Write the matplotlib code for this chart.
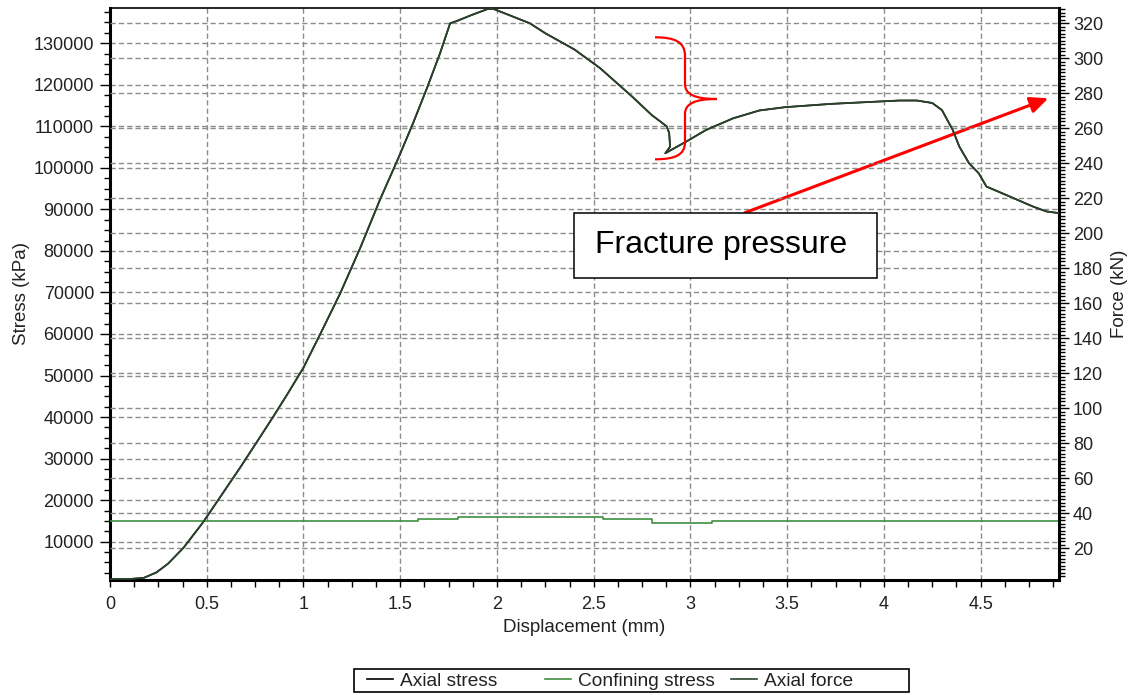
import matplotlib
matplotlib.use("Agg")
import matplotlib.pyplot as plt
from matplotlib.ticker import MultipleLocator
from matplotlib.path import Path
from matplotlib.patches import PathPatch, Rectangle
from matplotlib.lines import Line2D

plt.rcParams['font.family'] = ['Liberation Sans', 'DejaVu Sans']

# ---------------- data ----------------
displacement = [0, 0.10, 0.175, 0.24, 0.30, 0.38, 0.48, 0.557, 0.675, 0.763, 0.845,
                0.918, 1.0, 1.088, 1.19, 1.294, 1.397, 1.49, 1.567, 1.64, 1.706,
                1.758, 1.79, 1.87, 1.95, 1.98, 2.05, 2.17, 2.25, 2.40, 2.533, 2.70,
                2.80, 2.877, 2.89, 2.895, 2.87, 2.90, 2.978, 3.08, 3.22, 3.356, 3.49,
                3.73, 3.99, 4.08, 4.17, 4.25, 4.30, 4.356, 4.39, 4.44, 4.49, 4.53,
                4.63, 4.77, 4.84, 4.905]
axial_stress = [1000, 1000, 1300, 2600, 4700, 8550, 14600, 19900, 28000, 34300, 40200,
                45600, 51900, 60100, 69800, 80800, 92500, 102300, 110800, 119400, 127600,
                134800, 135300, 136800, 138200, 138300, 137000, 134800, 132400, 128500, 124000, 117100,
                112700, 110000, 108400, 105100, 103500, 104300, 106300, 109100, 111900, 113800, 114600,
                115400, 116000, 116200, 116200, 115600, 113900, 109100, 105100, 101100, 98700, 95500,
                93500, 90700, 89500, 89100]
axial_force = [2.4, 2.4, 3.1, 6.2, 11.2, 20.3, 34.7, 47.2, 66.5, 81.4, 95.4,
               108.3, 123.2, 142.7, 165.7, 191.8, 219.6, 242.9, 263.1, 283.5, 302.9,
               320.0, 321.2, 324.8, 328.1, 328.3, 325.3, 320.0, 314.3, 305.1, 294.4, 278.0,
               267.6, 261.2, 257.4, 249.5, 245.7, 247.6, 252.4, 259.0, 265.7, 270.2, 272.1,
               274.0, 275.4, 275.9, 275.9, 274.5, 270.4, 259.0, 249.5, 240.0, 234.3, 226.7,
               222.0, 215.3, 212.5, 211.5]
confining_disp = [0, 1.59, 1.80, 2.55, 2.80, 3.11, 4.905]
confining_stress = [15000, 15400, 15900, 15400, 14600, 15000, 15000]

x_ticks = [0, 0.5, 1, 1.5, 2, 2.5, 3, 3.5, 4, 4.5]
x_tick_labels = ['0', '0.5', '1', '1.5', '2', '2.5', '3', '3.5', '4', '4.5']
stress_ticks = [10000, 20000, 30000, 40000, 50000, 60000, 70000, 80000, 90000,
                100000, 110000, 120000, 130000]
force_ticks = [20, 40, 60, 80, 100, 120, 140, 160, 180, 200, 220, 240, 260, 280, 300, 320]
series_labels = ['Axial stress', 'Confining stress', 'Axial force']
annotation_text = 'Fracture pressure'

# ---------------- layout ----------------
W, H = 1146, 695
fig = plt.figure(figsize=(W / 100, H / 100), dpi=100)
fig.patch.set_facecolor('white')
L, R, T, B = 110, 1059, 8.3, 579.5
ax = fig.add_axes([L / W, 1 - B / H, (R - L) / W, (B - T) / H])
ax2 = ax.twinx()


def fp(x, y):
    """pixel (from top-left) -> figure fraction"""
    return (x / W, 1 - y / H)


grid_kw = dict(color='#8c8c8c', linestyle=(0, (3.8, 2.2)), linewidth=1.0)
ax.set_axisbelow(True)
ax.grid(True, which='major', axis='both', **grid_kw)
ax2.set_axisbelow(True)
ax2.grid(True, which='major', axis='y', **grid_kw)

c_stress = 'black'
c_conf = '#3f8f3f'
c_force = '#2b432b'

h1, = ax.plot(displacement, axial_stress, color=c_stress, lw=1.2, zorder=3)
h2, = ax.plot(confining_disp, confining_stress, color=c_conf, lw=1.2,
              drawstyle='steps-post', zorder=3)
h3, = ax2.plot(displacement, axial_force, color=c_force, lw=1.3, zorder=3)

ax.set_xlim(0, 4.905)
ax.set_ylim(900, 138400)
ax2.set_ylim(2.14, 328.6)

ax.set_xticks(x_ticks)
ax.set_xticklabels(x_tick_labels)
ax.xaxis.set_minor_locator(MultipleLocator(0.125))
ax.set_yticks(stress_ticks)
ax.yaxis.set_minor_locator(MultipleLocator(2500))
ax2.set_yticks(force_ticks)
ax2.yaxis.set_minor_locator(MultipleLocator(2))

tick_col = '#222222'
ax.tick_params(axis='x', which='major', direction='out', length=5, width=1,
               pad=7, labelsize=13, labelcolor=tick_col)
ax.tick_params(axis='x', which='minor', direction='out', length=5, width=1)
ax.tick_params(axis='y', which='major', direction='out', length=7, width=1,
               pad=4.5, labelsize=13, labelcolor=tick_col, left=True, right=False)
ax.tick_params(axis='y', which='minor', direction='out', length=4, width=1,
               left=True, right=False)
ax2.tick_params(axis='y', which='major', direction='out', length=7, width=1,
                pad=3, labelsize=13, labelcolor=tick_col)
ax2.tick_params(axis='y', which='minor', direction='out', length=4, width=1)

for s in ['left', 'bottom']:
    ax.spines[s].set_linewidth(2.2)
ax.spines['top'].set_linewidth(1.2)
ax.spines['right'].set_visible(False)
for s in ['left', 'bottom', 'top']:
    ax2.spines[s].set_visible(False)
ax2.spines['right'].set_linewidth(2.2)

ax.set_xlabel('Displacement (mm)', fontsize=13.5, color=tick_col)
ax.xaxis.set_label_coords(0.5, -0.069)
ax.set_ylabel('Stress (kPa)', fontsize=13.5, color=tick_col)
ax.yaxis.set_label_coords(-0.0845, 0.5)
ax2.set_ylabel('Force (kN)', fontsize=13.5, color=tick_col)
ax2.yaxis.set_label_coords(1.0545, 0.5)

# ---------------- legend (fixed-width columns inside one frame) ----------------
leg_y = 681
for h, lab, xs in zip([h1, h2, h3], series_labels, [367, 545, 731]):
    lg = fig.legend(handles=[Line2D([], [], color=h.get_color(), lw=1.2)], labels=[lab],
                    loc='center left', bbox_to_anchor=fp(xs, leg_y), frameon=False,
                    handlelength=1.35, handletextpad=0.36, borderpad=0, borderaxespad=0,
                    fontsize=13.8)
    for t in lg.get_texts():
        t.set_color(tick_col)
x0, y0 = fp(354, 692)
fig.add_artist(Rectangle((x0, y0), (909 - 354) / W, 23 / H, transform=fig.transFigure,
                         fill=False, ec='black', lw=1.2))

# ---------------- annotations ----------------
# text box
bx, by = fp(574, 278.3)
fig.add_artist(Rectangle((bx, by), (877 - 574) / W, (278.3 - 212.7) / H,
                         transform=fig.transFigure, fc='white', ec='black', lw=1.1, zorder=5))
fig.text(*fp(720.8, 253.3), annotation_text, fontsize=23, ha='center', va='baseline',
         color='black', zorder=6)

# red arrow
ax.annotate('', xy=fp(1048.3, 98.3), xycoords='figure fraction',
            xytext=fp(745, 212.7), textcoords='figure fraction',
            arrowprops=dict(arrowstyle='-|>,head_length=1.08,head_width=0.49',
                            mutation_scale=10, lw=2.2, color='#ff0000',
                            shrinkA=0, shrinkB=0), zorder=6, annotation_clip=False)

# red curly brace
pts = [(655, 37.3), (675, 37.3), (685, 42), (685, 56),
       (685, 84),
       (685, 94), (694, 99), (717, 99),
       (694, 99), (685, 104), (685, 114),
       (685, 142),
       (685, 155), (675, 159.3), (655, 159.3)]
codes = [Path.MOVETO, Path.CURVE4, Path.CURVE4, Path.CURVE4,
         Path.LINETO,
         Path.CURVE4, Path.CURVE4, Path.CURVE4,
         Path.CURVE4, Path.CURVE4, Path.CURVE4,
         Path.LINETO,
         Path.CURVE4, Path.CURVE4, Path.CURVE4]
brace = Path([fp(x, y) for x, y in pts], codes)
fig.add_artist(PathPatch(brace, transform=fig.transFigure, fill=False,
                         ec='#ff0000', lw=1.6, zorder=6))

fig.savefig('out.png', dpi=100, facecolor='white')
